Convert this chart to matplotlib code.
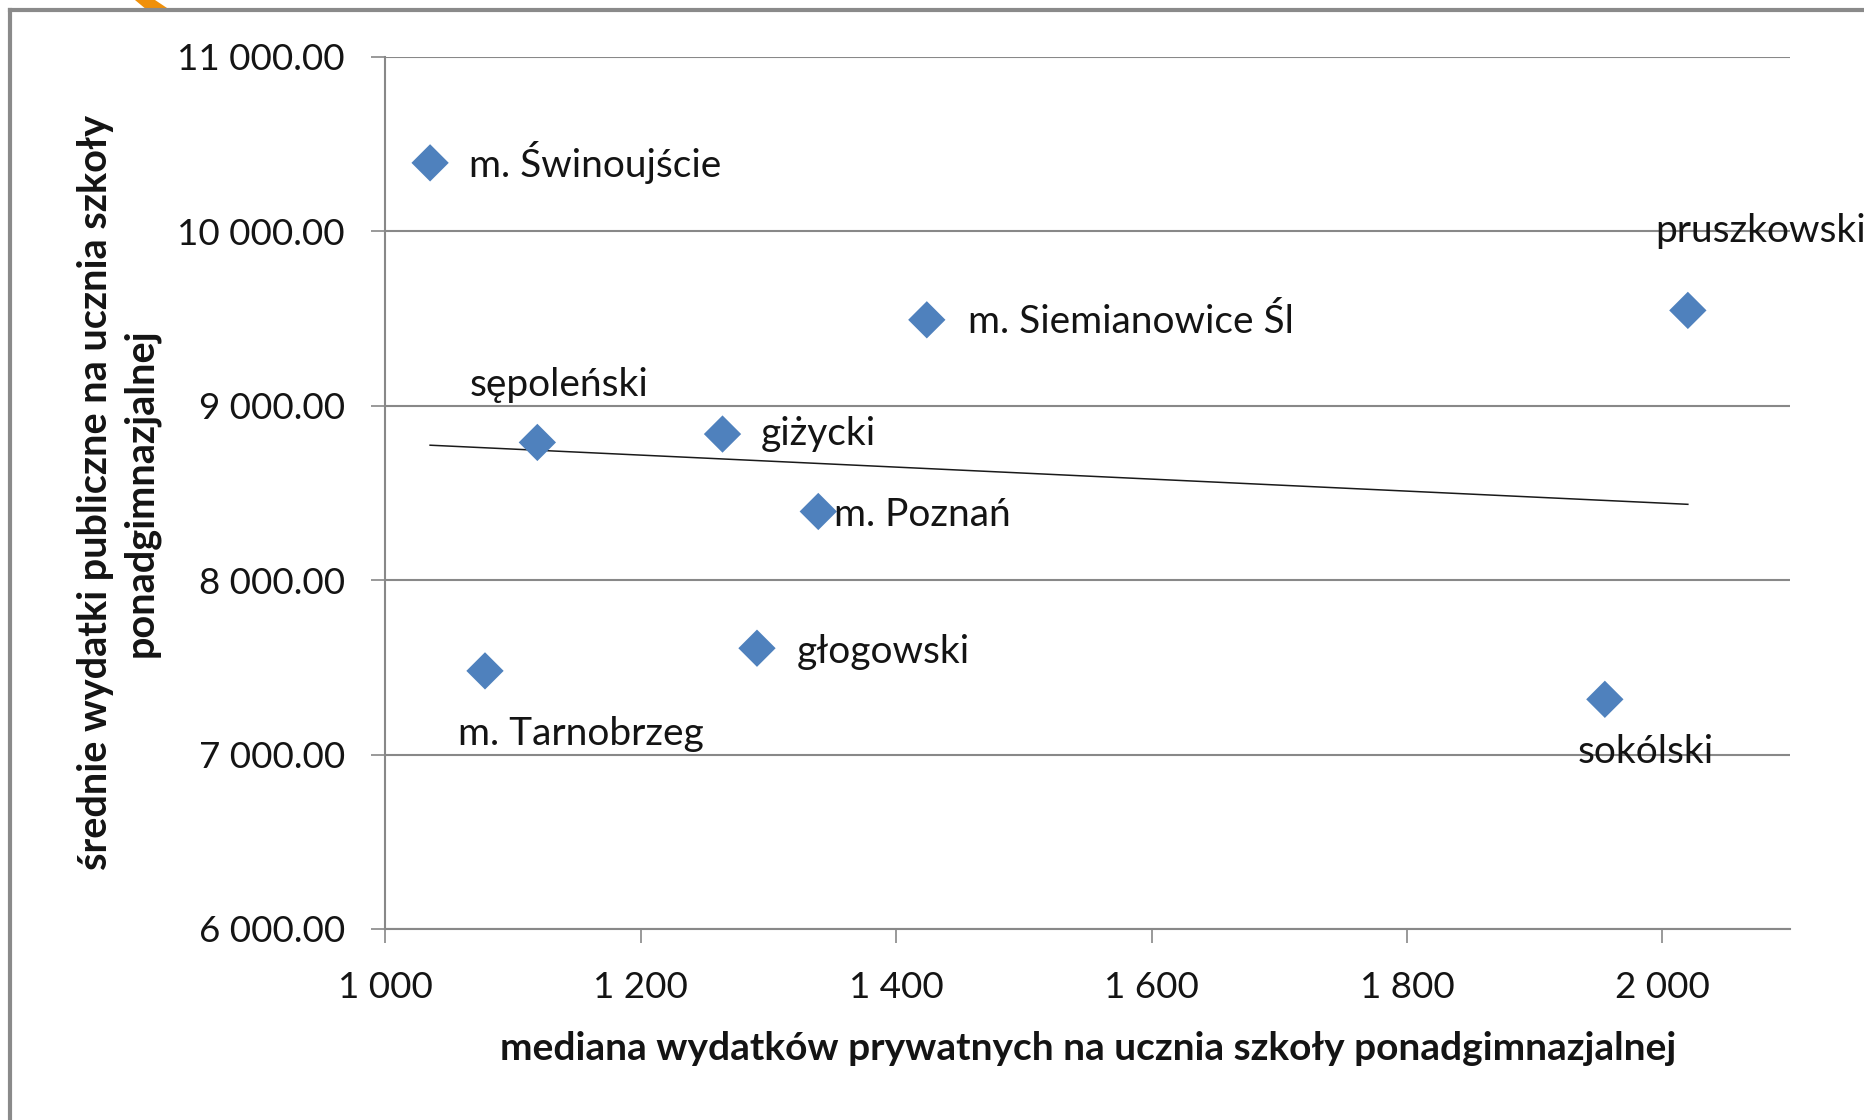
import numpy as np
import matplotlib
matplotlib.use("Agg")
import matplotlib.pyplot as plt
from matplotlib.ticker import FuncFormatter
from matplotlib.patches import Polygon
from matplotlib.lines import Line2D

# ---- data ----
names = ["m. Świnoujście", "pruszkowski", "m. Siemianowice Śl", "sępoleński",
         "giżycki", "m. Poznań", "głogowski", "m. Tarnobrzeg", "sokólski"]
private_median = [1035, 2020, 1424, 1119, 1264, 1339, 1291, 1078, 1955]
public_mean = [10393, 9547, 9493, 8790, 8838, 8394, 7610, 7480, 7317]
x_ticks = [1000, 1200, 1400, 1600, 1800, 2000]
y_ticks = [6000, 7000, 8000, 9000, 10000, 11000]

xlabel = "mediana wydatków prywatnych na ucznia szkoły ponadgimnazjalnej"
ylabel = "średnie wydatki publiczne na ucznia szkoły\nponadgimnazjalnej"

# label offsets in pixels (dx, dy) relative to the point
label_offsets = [(39, 0), (-33, 79), (41, -2), (-68, 57), (38, 0),
                 (16, -4), (40, -4), (-27, -63), (-27, -53)]

plt.rcParams['font.family'] = ['Lato', 'DejaVu Sans']

fig = plt.figure(figsize=(18.65, 11.2), dpi=100)
ax = fig.add_axes([385.4 / 1865, 1 - 929 / 1120, (1790 - 385.4) / 1865, (929 - 57) / 1120])

grid_c = "#888888"
text_c = "#141414"

ax.set_xlim(1000, 2100)
ax.set_ylim(6000, 11000)
ax.set_yticks(y_ticks)
ax.set_xticks(x_ticks)


def fmt_thousands(v, decimals):
    s = f"{v:,.{decimals}f}"
    return s.replace(",", " ")


ax.xaxis.set_major_formatter(FuncFormatter(lambda v, p: fmt_thousands(v, 0)))
ax.yaxis.set_major_formatter(FuncFormatter(lambda v, p: fmt_thousands(v, 2)))

ax.grid(axis='y', color=grid_c, lw=1.5)
ax.set_axisbelow(True)
for s in ["top", "right"]:
    ax.spines[s].set_visible(False)
for s in ["left", "bottom"]:
    ax.spines[s].set_color(grid_c)
    ax.spines[s].set_linewidth(1.5)
ax.tick_params(axis='both', direction='out', length=10, width=1.2, color=grid_c,
               labelsize=26.5, labelcolor=text_c)
ax.tick_params(axis='y', pad=19)
ax.tick_params(axis='x', pad=20)

# trend line (least-squares fit)
coef = np.polyfit(private_median, public_mean, 1)
xs = np.array([min(private_median), max(private_median)])
ax.plot(xs, np.polyval(coef, xs), color="#1a1a1a", lw=1.1, zorder=3)

ax.scatter(private_median, public_mean, marker='D', s=19 ** 2, color="#4F81BD",
           edgecolors='none', zorder=4)

for n, x, y, (dx, dy) in zip(names, private_median, public_mean, label_offsets):
    ax.annotate(n, (x, y), xytext=(dx, dy), textcoords='offset pixels',
                ha='left', va='center', fontsize=28, color=text_c, zorder=5,
                annotation_clip=False)

ax.set_xlabel(xlabel, fontsize=28, fontweight='bold', color=text_c, labelpad=20)
ax.set_ylabel(ylabel, fontsize=28.5, fontweight='bold', color=text_c, labelpad=13,
              linespacing=1.25)

# outer chart border and decorative orange corner
fig.add_artist(Polygon([[135 / 1865, 1], [155 / 1865, 1], [170 / 1865, 1 - 10 / 1120],
                        [147 / 1865, 1 - 10 / 1120]], closed=True, transform=fig.transFigure,
                       color="#F0900A", lw=0))
fig.add_artist(Line2D([10 / 1865, 10 / 1865], [0, 1 - 10 / 1120], transform=fig.transFigure,
                      color="#8a8a8a", lw=3))
fig.add_artist(Line2D([10 / 1865, 1], [1 - 10 / 1120, 1 - 10 / 1120], transform=fig.transFigure,
                      color="#8a8a8a", lw=3))

fig.savefig("out.png", dpi=100)
